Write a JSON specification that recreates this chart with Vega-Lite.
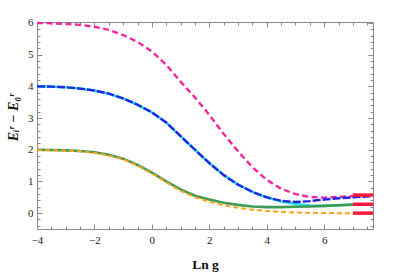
{
  "$schema": "https://vega.github.io/schema/vega-lite/v6.json",
  "width": 336,
  "height": 207,
  "autosize": "none",
  "padding": {"left": 37, "top": 22, "right": 22, "bottom": 45},
  "config": {
    "view": {"stroke": "#8a8a8a", "strokeWidth": 1},
    "axis": {"domain": false, "grid": false, "tickColor": "#8a8a8a", "labelFont": "Liberation Serif", "labelFontSize": 11, "labelColor": "#222", "titleFont": "Liberation Serif", "titleColor": "#111"}
  },
  "datasets": {
    "curves": [
      {"s": "pink", "x": -4, "y": 6.0}, {"s": "pink", "x": -3.5, "y": 5.99}, {"s": "pink", "x": -3, "y": 5.97}, {"s": "pink", "x": -2.5, "y": 5.94}, {"s": "pink", "x": -2, "y": 5.88}, {"s": "pink", "x": -1.5, "y": 5.78}, {"s": "pink", "x": -1, "y": 5.62}, {"s": "pink", "x": -0.5, "y": 5.4}, {"s": "pink", "x": 0, "y": 5.1}, {"s": "pink", "x": 0.5, "y": 4.68}, {"s": "pink", "x": 1, "y": 4.15}, {"s": "pink", "x": 1.5, "y": 3.65}, {"s": "pink", "x": 2, "y": 3.1}, {"s": "pink", "x": 2.5, "y": 2.5}, {"s": "pink", "x": 3, "y": 1.95}, {"s": "pink", "x": 3.5, "y": 1.45}, {"s": "pink", "x": 4, "y": 1.05}, {"s": "pink", "x": 4.5, "y": 0.77}, {"s": "pink", "x": 5, "y": 0.6}, {"s": "pink", "x": 5.5, "y": 0.51}, {"s": "pink", "x": 6, "y": 0.49}, {"s": "pink", "x": 6.5, "y": 0.51}, {"s": "pink", "x": 7, "y": 0.54},
      {"s": "blue", "x": -4, "y": 4.0}, {"s": "blue", "x": -3.5, "y": 3.99}, {"s": "blue", "x": -3, "y": 3.97}, {"s": "blue", "x": -2.5, "y": 3.93}, {"s": "blue", "x": -2, "y": 3.87}, {"s": "blue", "x": -1.5, "y": 3.77}, {"s": "blue", "x": -1, "y": 3.62}, {"s": "blue", "x": -0.5, "y": 3.42}, {"s": "blue", "x": 0, "y": 3.18}, {"s": "blue", "x": 0.5, "y": 2.86}, {"s": "blue", "x": 1, "y": 2.43}, {"s": "blue", "x": 1.5, "y": 2.0}, {"s": "blue", "x": 2, "y": 1.58}, {"s": "blue", "x": 2.5, "y": 1.2}, {"s": "blue", "x": 3, "y": 0.9}, {"s": "blue", "x": 3.5, "y": 0.67}, {"s": "blue", "x": 4, "y": 0.5}, {"s": "blue", "x": 4.5, "y": 0.39}, {"s": "blue", "x": 5, "y": 0.35}, {"s": "blue", "x": 5.5, "y": 0.38}, {"s": "blue", "x": 6, "y": 0.43}, {"s": "blue", "x": 6.5, "y": 0.47}, {"s": "blue", "x": 7, "y": 0.5}, {"s": "blue", "x": 7.6, "y": 0.53},
      {"s": "cyan", "x": -4, "y": 4.0}, {"s": "cyan", "x": -3.5, "y": 3.99}, {"s": "cyan", "x": -3, "y": 3.97}, {"s": "cyan", "x": -2.5, "y": 3.93}, {"s": "cyan", "x": -2, "y": 3.87}, {"s": "cyan", "x": -1.5, "y": 3.77}, {"s": "cyan", "x": -1, "y": 3.62}, {"s": "cyan", "x": -0.5, "y": 3.42}, {"s": "cyan", "x": 0, "y": 3.18}, {"s": "cyan", "x": 0.5, "y": 2.86}, {"s": "cyan", "x": 1, "y": 2.43}, {"s": "cyan", "x": 1.5, "y": 2.0}, {"s": "cyan", "x": 2, "y": 1.58}, {"s": "cyan", "x": 2.5, "y": 1.2}, {"s": "cyan", "x": 3, "y": 0.9}, {"s": "cyan", "x": 3.5, "y": 0.67}, {"s": "cyan", "x": 4, "y": 0.5}, {"s": "cyan", "x": 4.5, "y": 0.37}, {"s": "cyan", "x": 5, "y": 0.29}, {"s": "cyan", "x": 5.5, "y": 0.24}, {"s": "cyan", "x": 6, "y": 0.23}, {"s": "cyan", "x": 6.5, "y": 0.25}, {"s": "cyan", "x": 7, "y": 0.27},
      {"s": "green", "x": -4, "y": 2.0}, {"s": "green", "x": -3.5, "y": 1.99}, {"s": "green", "x": -3, "y": 1.98}, {"s": "green", "x": -2.5, "y": 1.96}, {"s": "green", "x": -2, "y": 1.92}, {"s": "green", "x": -1.5, "y": 1.84}, {"s": "green", "x": -1, "y": 1.72}, {"s": "green", "x": -0.5, "y": 1.52}, {"s": "green", "x": 0, "y": 1.28}, {"s": "green", "x": 0.5, "y": 1.0}, {"s": "green", "x": 1, "y": 0.75}, {"s": "green", "x": 1.5, "y": 0.55}, {"s": "green", "x": 2, "y": 0.43}, {"s": "green", "x": 2.5, "y": 0.33}, {"s": "green", "x": 3, "y": 0.26}, {"s": "green", "x": 3.5, "y": 0.21}, {"s": "green", "x": 4, "y": 0.19}, {"s": "green", "x": 4.5, "y": 0.19}, {"s": "green", "x": 5, "y": 0.2}, {"s": "green", "x": 5.5, "y": 0.21}, {"s": "green", "x": 6, "y": 0.23}, {"s": "green", "x": 6.5, "y": 0.25}, {"s": "green", "x": 7, "y": 0.27},
      {"s": "orange", "x": -4, "y": 1.99}, {"s": "orange", "x": -3.5, "y": 1.98}, {"s": "orange", "x": -3, "y": 1.97}, {"s": "orange", "x": -2.5, "y": 1.95}, {"s": "orange", "x": -2, "y": 1.9}, {"s": "orange", "x": -1.5, "y": 1.82}, {"s": "orange", "x": -1, "y": 1.7}, {"s": "orange", "x": -0.5, "y": 1.5}, {"s": "orange", "x": 0, "y": 1.25}, {"s": "orange", "x": 0.5, "y": 0.97}, {"s": "orange", "x": 1, "y": 0.7}, {"s": "orange", "x": 1.5, "y": 0.5}, {"s": "orange", "x": 2, "y": 0.36}, {"s": "orange", "x": 2.5, "y": 0.25}, {"s": "orange", "x": 3, "y": 0.17}, {"s": "orange", "x": 3.5, "y": 0.11}, {"s": "orange", "x": 4, "y": 0.07}, {"s": "orange", "x": 4.5, "y": 0.04}, {"s": "orange", "x": 5, "y": 0.02}, {"s": "orange", "x": 5.5, "y": 0.01}, {"s": "orange", "x": 6, "y": 0.005}, {"s": "orange", "x": 6.5, "y": 0.0}, {"s": "orange", "x": 7, "y": 0.0}
    ],
    "limits": [
      {"s": "r1", "x": 7, "y": 0.57}, {"s": "r1", "x": 7.7, "y": 0.57},
      {"s": "r2", "x": 7, "y": 0.28}, {"s": "r2", "x": 7.7, "y": 0.28},
      {"s": "r3", "x": 7, "y": 0.0}, {"s": "r3", "x": 7.7, "y": 0.0}
    ]
  },
  "resolve": {"axis": {"x": "independent", "y": "independent"}},
  "layer": [
    {
      "layer": [
        {"transform": [{"filter": "datum.s === 'cyan'"}], "mark": {"type": "line", "color": "#22e4ee", "strokeWidth": 2.6}, "encoding": {}},
        {"transform": [{"filter": "datum.s === 'green'"}], "mark": {"type": "line", "color": "#3f9a55", "strokeWidth": 2.6}, "encoding": {}},
        {"transform": [{"filter": "datum.s === 'orange'"}], "mark": {"type": "line", "color": "#ffa31a", "strokeWidth": 2, "strokeDash": [5, 3]}, "encoding": {}},
        {"transform": [{"filter": "datum.s === 'pink'"}], "mark": {"type": "line", "color": "#f7259d", "strokeWidth": 2.4, "strokeDash": [6, 3.5]}, "encoding": {}},
        {"transform": [{"filter": "datum.s === 'blue'"}], "mark": {"type": "line", "color": "#2424e6", "strokeWidth": 2.4, "strokeDash": [8, 2]}, "encoding": {}}
      ],
      "data": {"name": "curves"},
      "encoding": {
        "x": {"field": "x", "type": "quantitative", "scale": {"domain": [-4, 7.7], "nice": false, "zero": false},
          "axis": {"orient": "bottom", "values": [-4, -3.5, -3, -2.5, -2, -1.5, -1, -0.5, 0, 0.5, 1, 1.5, 2, 2.5, 3, 3.5, 4, 4.5, 5, 5.5, 6, 6.5, 7, 7.5],
            "labelExpr": "datum.value % 2 === 0 ? format(datum.value, 'd') : ''",
            "tickSize": {"condition": {"test": "datum.value % 2 === 0", "value": -5}, "value": -3},
            "labelPadding": 10, "labelFlush": false, "labelOverlap": false,
            "title": "Ln g", "titleFontSize": 13.5, "titleFontWeight": "bold", "titlePadding": 10}},
        "y": {"field": "y", "type": "quantitative", "scale": {"domain": [-0.5, 6.03], "nice": false, "zero": false},
          "axis": {"orient": "left", "values": [-0.4, -0.2, 0, 0.2, 0.4, 0.6, 0.8, 1, 1.2, 1.4, 1.6, 1.8, 2, 2.2, 2.4, 2.6, 2.8, 3, 3.2, 3.4, 3.6, 3.8, 4, 4.2, 4.4, 4.6, 4.8, 5, 5.2, 5.4, 5.6, 5.8, 6],
            "labelExpr": "abs(datum.value - round(datum.value)) < 0.01 ? format(datum.value, 'd') : ''",
            "tickSize": {"condition": {"test": "abs(datum.value - round(datum.value)) < 0.01", "value": -5}, "value": -3},
            "labelPadding": 9, "labelOverlap": false, "labelFlush": false,
            "title": "Eᵢʳ − E₀ʳ", "titleFontSize": 14, "titleFontWeight": "bold", "titleFontStyle": "italic", "titlePadding": 7, "titleY": 95}}
      }
    },
    {
      "data": {"name": "limits"},
      "mark": {"type": "line", "color": "#ff1a3c", "strokeWidth": 3.5},
      "encoding": {
        "detail": {"field": "s"},
        "x": {"field": "x", "type": "quantitative", "scale": {"domain": [-4, 7.7], "nice": false, "zero": false},
          "axis": {"orient": "top", "values": [-4, -3.5, -3, -2.5, -2, -1.5, -1, -0.5, 0, 0.5, 1, 1.5, 2, 2.5, 3, 3.5, 4, 4.5, 5, 5.5, 6, 6.5, 7, 7.5],
            "labels": false, "title": null,
            "tickSize": {"condition": {"test": "datum.value % 2 === 0", "value": -5}, "value": -3}}},
        "y": {"field": "y", "type": "quantitative", "scale": {"domain": [-0.5, 6.03], "nice": false, "zero": false},
          "axis": {"orient": "right", "values": [-0.4, -0.2, 0, 0.2, 0.4, 0.6, 0.8, 1, 1.2, 1.4, 1.6, 1.8, 2, 2.2, 2.4, 2.6, 2.8, 3, 3.2, 3.4, 3.6, 3.8, 4, 4.2, 4.4, 4.6, 4.8, 5, 5.2, 5.4, 5.6, 5.8, 6],
            "labels": false, "title": null,
            "tickSize": {"condition": {"test": "abs(datum.value - round(datum.value)) < 0.01", "value": -5}, "value": -3}}}
      }
    }
  ]
}
